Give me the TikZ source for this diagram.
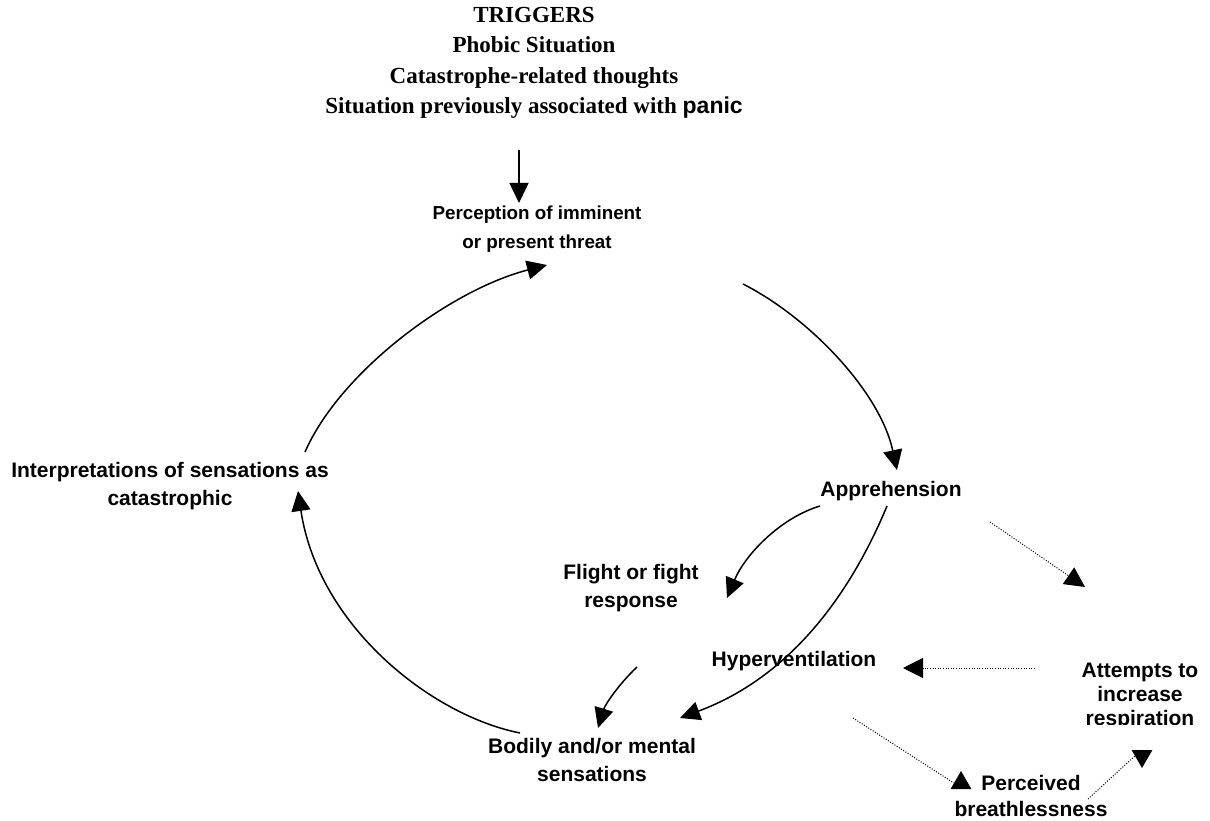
\documentclass[tikz,border=0pt]{standalone}
\usepackage{fontspec}
\setmainfont{Liberation Serif}
\setsansfont{Liberation Sans}
\usetikzlibrary{arrows.meta,calc,shapes.geometric}

\tikzset{
  lbl/.style={font=\sffamily\bfseries\fontsize{21}{28}\selectfont, align=center, inner sep=0pt},
  trigtext/.style={font=\rmfamily\bfseries\fontsize{23}{30.5}\selectfont, align=center, inner sep=0pt},
  flow/.style={line width=1.5pt, -{Triangle[length=20pt,width=19pt]}},
  dots/.style={line width=1pt, dash pattern=on 1pt off 1.6pt},
  dotflow/.style={dots, -{Triangle[length=20pt,width=20pt]}},
  headup/.style={fill, regular polygon, regular polygon sides=3, inner sep=0pt, minimum size=24pt},
  headdown/.style={headup, shape border rotate=180},
}

\begin{document}
\begin{tikzpicture}[x=1pt,y=-1pt]
\useasboundingbox (0,0) rectangle (1210,821);

% labels
\node[trigtext] (trig) at (534,63) {TRIGGERS\\Phobic Situation\\Catastrophe-related thoughts\\Situation previously associated with {\sffamily panic}};
\node[lbl, font=\sffamily\bfseries\fontsize{18.8}{29}\selectfont] (perc) at (537,229) {Perception of imminent\\or present threat};
\node[lbl] (appr) at (891,491) {Apprehension};
\node[lbl] (flight) at (631,588) {Flight or fight\\response};
\node[lbl] (hyper) at (794,661) {Hyperventilation};
\node[lbl] (body) at (592,760) {Bodily and/or mental\\sensations};
\node[lbl] (interp) at (170,486) {Interpretations of sensations as\\catastrophic};
\begin{scope}
  \clip (1000,600) rectangle (1210,724);
  \node[lbl, font=\sffamily\bfseries\fontsize{21}{24}\selectfont] (tries) at (1140,696) {Attempts to\\increase\\respiration};
\end{scope}
\node[lbl, font=\sffamily\bfseries\fontsize{21}{26}\selectfont] (breath) at (1031,796) {Perceived\\breathlessness};

% main cycle
\draw[flow] ($(trig)+(-15,87)$) -- ($(perc)+(-18,-26)$);
\draw[flow] ($(perc)+(206,55)$) .. controls (810,318) and (880,392) .. ($(appr)+(6,-21)$);
\draw[flow] ($(appr)+(-4,15)$) .. controls (850,595) and (790,677) .. ($(body)+(88,-42)$);
\draw[flow] ($(body)+(-72,-27)$) .. controls (430,715) and (318,625) .. ($(interp)+(128,5)$);
\draw[flow] ($(interp)+(135,-34)$) .. controls (340,372) and (450,290) .. ($(perc)+(10,36)$);

% side branch
\draw[flow] ($(appr)+(-71,15)$) .. controls (780,518) and (745,555) .. ($(flight)+(96,10)$);
\draw[flow] ($(flight)+(6,79)$) .. controls (618,685) and (605,705) .. ($(body)+(6,-32)$);

% breathing loop
\draw[dotflow] ($(appr)+(99,31)$) -- ($(tries)+(-55,-109)$);
\draw[dotflow] ($(tries)+(-105,-28)$) -- ($(hyper)+(109,7)$);
\node[headup] (upTip) at ($(breath)+(-70,-13)$) {};
\draw[dots] ($(hyper)+(59,57)$) -- (upTip.west);
\node[headdown] (downTip) at ($(tries)+(2,60)$) {};
\draw[dots] ($(breath)+(57,3)$) -- (downTip.west);
\end{tikzpicture}
\end{document}
